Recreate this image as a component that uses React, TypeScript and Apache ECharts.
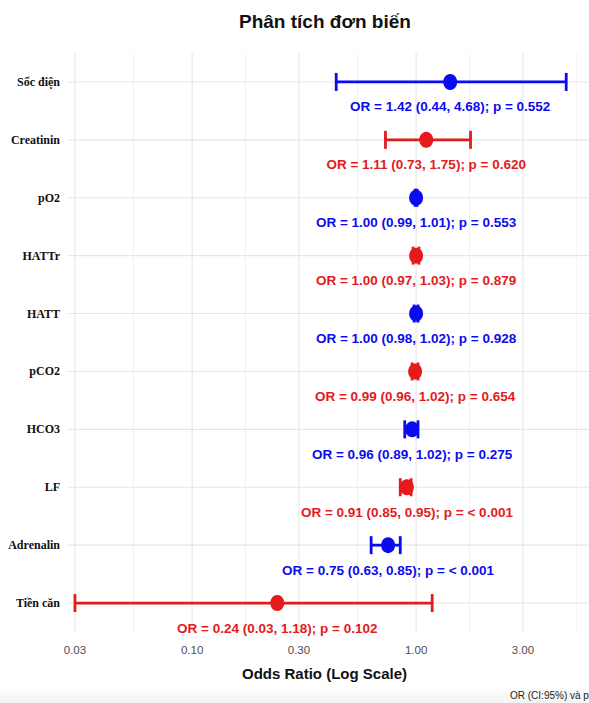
import React, { useEffect, useRef } from "react";
import * as echarts from "echarts";

// Univariate logistic regression results, top row first
const ROWS = ["Sốc điện", "Creatinin", "pO2", "HATTr", "HATT", "pCO2", "HCO3", "LF", "Adrenalin", "Tiền căn"];
const ODDS = [1.42, 1.11, 1.0, 1.0, 1.0, 0.99, 0.96, 0.91, 0.75, 0.24];
const CI_LOW = [0.44, 0.73, 0.99, 0.97, 0.98, 0.96, 0.89, 0.85, 0.63, 0.03];
const CI_HIGH = [4.68, 1.75, 1.01, 1.03, 1.02, 1.02, 1.02, 0.95, 0.85, 1.18];
const P_VALUES = ["0.552", "0.620", "0.553", "0.879", "0.928", "0.654", "0.275", "< 0.001", "< 0.001", "0.102"];
const ROW_GROUP = ["blue", "red", "blue", "red", "blue", "red", "blue", "red", "blue", "red"];

// Axis breaks on the odds-ratio scale
const X_BREAKS = [0.03, 0.1, 0.3, 1, 3];

const PALETTE: Record<string, string> = { blue: "#0b0bf0", red: "#e41a1c" };

const log10 = (v: number) => Math.log10(v);

// Minor grid sits halfway between breaks in log space (and one step past the last)
const majorLog = X_BREAKS.map(log10);
const minorLog: number[] = [];
for (let i = 0; i < majorLog.length - 1; i++) minorLog.push((majorLog[i] + majorLog[i + 1]) / 2);
minorLog.push(majorLog[majorLog.length - 1] + (majorLog[majorLog.length - 1] - minorLog[minorLog.length - 1]));

const LOG_MIN = -1.554;
const LOG_MAX = 0.772;

const labelText = (i: number) =>
  `OR = ${ODDS[i].toFixed(2)} (${CI_LOW[i].toFixed(2)}, ${CI_HIGH[i].toFixed(2)}); p = ${P_VALUES[i]}`;

const FONT_SANS = "Liberation Sans, Arial, sans-serif";

export default function App() {
  const ref = useRef<HTMLDivElement>(null);

  useEffect(() => {
    if (!ref.current) return;
    const chart = echarts.init(ref.current, null, { renderer: "svg" });

    // Vertical panel grid: [x, _, isMajor]
    const vGrid = [...majorLog.map((x) => [x, 0, 1]), ...minorLog.map((x) => [x, 0, 0])];
    // Horizontal panel grid at each row
    const hGrid = ROWS.map((_, i) => [LOG_MIN, i]);

    chart.setOption({
      animation: false,
      backgroundColor: "#ffffff",
      title: {
        text: "Phân tích đơn biến",
        left: 234,
        top: 7,
        textStyle: {
          fontFamily: FONT_SANS,
          fontWeight: "bold",
          fontSize: 19,
          color: "#111111",
        },
      },
      grid: { left: 68, right: 0, top: 53, bottom: 71 },
      xAxis: {
        type: "value",
        min: LOG_MIN,
        max: LOG_MAX,
        axisLine: { show: false },
        axisTick: { show: false },
        splitLine: { show: false },
        axisLabel: {
          customValues: majorLog,
          formatter: (v: number) => Math.pow(10, v).toFixed(2),
          fontFamily: FONT_SANS,
          fontSize: 11.5,
          color: "#4d4d4d",
          margin: 12,
        },
        name: "Odds Ratio (Log Scale)",
        nameLocation: "middle",
        nameGap: 34,
        nameTextStyle: {
          fontFamily: FONT_SANS,
          fontWeight: "bold",
          fontSize: 15,
          color: "#111111",
          padding: [0, 8, 0, 0],
        },
      },
      yAxis: {
        type: "category",
        data: ROWS,
        inverse: true,
        axisLine: { show: false },
        axisTick: { show: false },
        splitLine: { show: false },
        axisLabel: {
          fontFamily: "Liberation Serif, Times New Roman, serif",
          fontWeight: "bold",
          fontSize: 12,
          color: "#111111",
          margin: 8,
        },
      },
      graphic: [
        {
          type: "rect",
          shape: { x: 0, y: 684, width: 589, height: 19 },
          silent: true,
          z: -1,
          style: {
            fill: new echarts.graphic.LinearGradient(0, 0, 0, 1, [
              { offset: 0, color: "rgba(0,0,0,0)" },
              { offset: 1, color: "rgba(0,0,0,0.045)" },
            ]),
          },
        },
        {
          type: "text",
          left: 510,
          top: 690,
          style: {
            text: "OR (CI:95%) và p",
            fontFamily: FONT_SANS,
            fontSize: 10,
            fill: "#222222",
          },
        },
      ],
      series: [
        {
          type: "custom",
          z: 0,
          silent: true,
          encode: { x: 0, y: 1 },
          data: vGrid,
          renderItem: (params: any, api: any) => {
            const cs = params.coordSys;
            const x = api.coord([api.value(0), 0])[0];
            const major = api.value(2) === 1;
            return {
              type: "line",
              shape: { x1: x, y1: cs.y, x2: x, y2: cs.y + cs.height },
              style: { stroke: major ? "#e6e6e6" : "#eeeeee", lineWidth: major ? 1.1 : 0.8 },
            };
          },
        },
        {
          type: "custom",
          z: 0,
          silent: true,
          encode: { x: 0, y: 1 },
          data: hGrid,
          renderItem: (params: any, api: any) => {
            const cs = params.coordSys;
            const y = api.coord([api.value(0), api.value(1)])[1];
            return {
              type: "line",
              shape: { x1: cs.x, y1: y, x2: cs.x + cs.width, y2: y },
              style: { stroke: "#e6e6e6", lineWidth: 1.1 },
            };
          },
        },
        {
          type: "custom",
          z: 2,
          silent: true,
          encode: { x: [0, 1], y: 2 },
          data: ROWS.map((_, i) => [log10(CI_LOW[i]), log10(CI_HIGH[i]), i]),
          renderItem: (params: any, api: any) => {
            const row = api.value(2);
            const a = api.coord([api.value(0), row]);
            const b = api.coord([api.value(1), row]);
            const cap = 9;
            const style = { stroke: PALETTE[ROW_GROUP[params.dataIndex]], lineWidth: 2.8, fill: "none" };
            return {
              type: "group",
              children: [
                { type: "line", shape: { x1: a[0], y1: a[1], x2: b[0], y2: b[1] }, style },
                { type: "line", shape: { x1: a[0], y1: a[1] - cap, x2: a[0], y2: a[1] + cap }, style },
                { type: "line", shape: { x1: b[0], y1: b[1] - cap, x2: b[0], y2: b[1] + cap }, style },
              ],
            };
          },
        },
        {
          type: "scatter",
          z: 3,
          symbol: "circle",
          symbolSize: [14, 16],
          itemStyle: { opacity: 1 },
          data: ROWS.map((_, i) => {
            const c = PALETTE[ROW_GROUP[i]];
            return {
              value: [log10(ODDS[i]), i],
              itemStyle: { color: c, opacity: 1 },
              label: { color: c },
            };
          }),
          label: {
            show: true,
            position: "bottom",
            distance: 10,
            formatter: (p: any) => labelText(p.dataIndex),
            fontFamily: FONT_SANS,
            fontWeight: "bold",
            fontSize: 13.5,
          },
        },
      ],
    });

    return () => chart.dispose();
  }, []);

  return (
    <div
      ref={ref}
      style={{ position: "absolute", left: 0, top: 0, width: 589, height: 703 }}
    />
  );
}
